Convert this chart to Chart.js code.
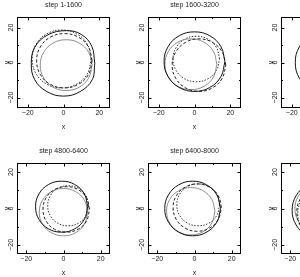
<!DOCTYPE html>
<html>
<head>
<meta charset="utf-8">
<script src="https://cdn.jsdelivr.net/npm/chart.js@4.4.1/dist/chart.umd.min.js"></script>
<style>
  html, body { margin: 0; padding: 0; background: #fff; overflow: hidden; }
  body { width: 300px; height: 277px; position: relative; }
  .panel { position: absolute; width: 131px; height: 146px; }
</style>
</head>
<body>
<div class="panel" style="left:0;top:0"><canvas id="c1" width="131" height="146"></canvas></div>
<div class="panel" style="left:131px;top:0"><canvas id="c2" width="131" height="146"></canvas></div>
<div class="panel" style="left:264px;top:0"><canvas id="c3" width="131" height="146"></canvas></div>
<div class="panel" style="left:0;top:146px"><canvas id="c4" width="131" height="146"></canvas></div>
<div class="panel" style="left:131px;top:146px"><canvas id="c5" width="131" height="146"></canvas></div>
<div class="panel" style="left:264px;top:146px"><canvas id="c6" width="131" height="146"></canvas></div>
<script>
const titles = ["step 1-1600", "step 1600-3200", "step 3200-4800", "step 4800-6400", "step 6400-8000", "step 8000-9600"];
const tickValues = [-20, -10, 0, 10, 20];
const tickLabels = ["\u221220", "", "0", "", "20"];
const rangeTop = [-26, 26];
const rangeBottom = [-25, 25];

// orbit passes, [x, y] points
const step1a = [[17.5,-0.5],[15.8,9.3],[10,16],[1.5,18.2],[-8.8,15.8],[-16,8.8],[-18,-0.5],[-16.1,-9.8],[-9.3,-16.6],[0,-19.2],[9.3,-16.6],[16.1,-9.8]];
const step1b = [[16,1],[14,8.8],[8.3,14.5],[0.5,16.5],[-7.3,14.5],[-13,8.8],[-15,1],[-13,-6.8],[-7.3,-12.5],[0.5,-14.5],[8.3,-12.5],[14,-6.8]];
const step1c = [[16,-1.5],[14.1,5.8],[8.8,11.1],[1.5,13],[-5.8,11.1],[-11.1,5.8],[-13,-1.5],[-11.1,-8.8],[-5.8,-14.1],[1.5,-16],[8.8,-14.1],[14.1,-8.8]];
const step1d = [[15.5,2],[13.4,10.3],[7.3,16.4],[-1,18.5],[-9.3,16.4],[-15.4,10.3],[-17.5,2],[-15.4,-6.3],[-9.3,-12.4],[-1,-14.5],[7.3,-12.4],[13.4,-6.3]];

const step2a = [[17,0.5],[14.8,9],[8.5,15.3],[0,17.5],[-8.5,15.3],[-14.8,9],[-17,0.5],[-14.8,-8],[-8.5,-14.3],[0,-16.5],[8.5,-14.3],[14.8,-8]];
const step2b = [[17.5,-1.5],[15.5,6],[10,11.5],[2.5,13.5],[-5,11.5],[-10.5,6],[-12.5,-1.5],[-10.5,-9],[-5,-14.5],[2.5,-16.5],[10,-14.5],[15.5,-9]];
const step2c = [[12.5,-1],[10.6,6.3],[5.3,11.6],[-2,13.5],[-9.3,11.6],[-14.6,6.3],[-16.5,-1],[-14.6,-8.3],[-9.3,-13.6],[-2,-15.5],[5.3,-13.6],[10.6,-8.3]];
const step2d = [[14,2],[12.3,8.5],[7.5,13.3],[1,15],[-5.5,13.3],[-10.3,8.5],[-12,2],[-10.3,-4.5],[-5.5,-9.3],[1,-11],[7.5,-9.3],[12.3,-4.5]];

const step3a = [[18,0],[15.7,9],[9,15.7],[0,18],[-9,15.7],[-15.7,9],[-18,0],[-15.7,-9],[-9,-15.7],[0,-18],[9,-15.7],[15.7,-9]];
const step3b = [[19,1],[16.8,9.5],[10.5,15.8],[2,18],[-6.5,15.8],[-12.8,9.5],[-15,1],[-12.8,-7.5],[-6.5,-13.8],[2,-16],[10.5,-13.8],[16.8,-7.5]];

const step4a = [[13,1],[11.2,8],[6,13.2],[-1,15],[-8,13.2],[-13.2,8],[-15,1],[-13.2,-6],[-8,-11.2],[-1,-13],[6,-11.2],[11.2,-6]];
const step4b = [[14,-0.5],[12.4,5.8],[7.8,10.4],[1.5,12],[-4.8,10.4],[-9.4,5.8],[-11,-0.5],[-9.4,-6.8],[-4.8,-11.4],[1.5,-13],[7.8,-11.4],[12.4,-6.8]];
const step4c = [[13,-2],[11.3,4.5],[6.5,9.3],[0,11],[-6.5,9.3],[-11.3,4.5],[-13,-2],[-11.3,-8.5],[-6.5,-13.3],[0,-15],[6.5,-13.3],[11.3,-8.5]];
const step4d = [[13.5,1.5],[12.1,7],[8,11.1],[2.5,12.5],[-3,11.1],[-7.1,7],[-8.5,1.5],[-7.1,-4],[-3,-8.1],[2.5,-9.5],[8,-8.1],[12.1,-4]];

const step5a = [[14,0],[12,7.5],[6.5,13],[-1,15],[-8.5,13],[-14,7.5],[-16,0],[-14,-7.5],[-8.5,-13],[-1,-15],[6.5,-13],[12,-7.5]];
const step5b = [[14.5,0.5],[12.8,7],[8,11.8],[1.5,13.5],[-5,11.8],[-9.8,7],[-11.5,0.5],[-9.8,-6],[-5,-10.8],[1.5,-12.5],[8,-10.8],[12.8,-6]];
const step5c = [[11,-1.5],[9.3,5],[4.5,9.8],[-2,11.5],[-8.5,9.8],[-13.3,5],[-15,-1.5],[-13.3,-8],[-8.5,-12.8],[-2,-14.5],[4.5,-12.8],[9.3,-8]];
const step5d = [[13.5,2],[12,7.8],[7.8,12],[2,13.5],[-3.8,12],[-8,7.8],[-9.5,2],[-8,-3.8],[-3.8,-8],[2,-9.5],[7.8,-8],[12,-3.8]];

const step6a = [[13,-1],[10.9,7],[5,12.9],[-3,15],[-11,12.9],[-16.9,7],[-19,-1],[-16.9,-9],[-11,-14.9],[-3,-17],[5,-14.9],[10.9,-9]];
const step6b = [[12.5,-2],[10.6,5.3],[5.3,10.6],[-2,12.5],[-9.3,10.6],[-14.6,5.3],[-16.5,-2],[-14.6,-9.3],[-9.3,-14.6],[-2,-16.5],[5.3,-14.6],[10.6,-9.3]];
const step6c = [[9.5,0],[7.7,6.8],[2.8,11.7],[-4,13.5],[-10.8,11.7],[-15.7,6.8],[-17.5,0],[-15.7,-6.8],[-10.8,-11.7],[-4,-13.5],[2.8,-11.7],[7.7,-6.8]];
const step6d = [[14,-3],[12,4.5],[6.5,10],[-1,12],[-8.5,10],[-14,4.5],[-16,-3],[-14,-10.5],[-8.5,-16],[-1,-18],[6.5,-16],[12,-10.5]];

const lineStyles = [
  { color: "#111", dash: [] },
  { color: "#222", dash: [3, 2] },
  { color: "#8c8c8c", dash: [] },
  { color: "#333", dash: [1.5, 1.5] },
];

Chart.defaults.font.family = "Liberation Sans";
Chart.defaults.font.size = 7;
Chart.defaults.color = "#222";

// frame on all four sides with inward ticks
const frameTicks = {
  id: "frameTicks",
  afterDraw(chart) {
    const { ctx, chartArea: a, scales } = chart;
    ctx.save();
    ctx.strokeStyle = "#000";
    ctx.lineWidth = 1;
    ctx.strokeRect(a.left + 0.5, a.top + 0.5, a.right - a.left - 1, a.bottom - a.top - 1);
    ctx.beginPath();
    tickValues.forEach((v, i) => {
      const len = tickLabels[i] === "" ? 2 : 3.5;
      const px = Math.round(scales.x.getPixelForValue(v)) + 0.5;
      const py = Math.round(scales.y.getPixelForValue(v)) + 0.5;
      ctx.moveTo(px, a.bottom); ctx.lineTo(px, a.bottom - len);
      ctx.moveTo(px, a.top); ctx.lineTo(px, a.top + len);
      ctx.moveTo(a.left, py); ctx.lineTo(a.left + len, py);
      ctx.moveTo(a.right, py); ctx.lineTo(a.right - len, py);
    });
    ctx.stroke();
    ctx.restore();
  },
};

function makePanel(id, title, range, loops) {
  const datasets = loops.map((pts, i) => ({
    data: pts.concat([pts[0]]).map(p => ({ x: p[0], y: p[1] })),
    showLine: true,
    tension: 0.4,
    borderColor: lineStyles[i % lineStyles.length].color,
    borderDash: lineStyles[i % lineStyles.length].dash,
    borderWidth: 1,
    pointRadius: 0,
    fill: false,
  }));
  const tickCallback = v => {
    const i = tickValues.indexOf(v);
    return i < 0 ? "" : tickLabels[i];
  };
  return new Chart(document.getElementById(id), {
    type: "scatter",
    data: { datasets },
    options: {
      responsive: false,
      animation: false,
      devicePixelRatio: 1,
      layout: { padding: { left: 0, right: 21, top: 0, bottom: 0 } },
      scales: {
        x: {
          type: "linear",
          min: range[0],
          max: range[1],
          afterBuildTicks: s => { s.ticks = tickValues.map(v => ({ value: v })); },
          afterFit: s => { s.height = 38; },
          ticks: { autoSkip: false, maxRotation: 0, padding: 1, callback: tickCallback },
          grid: { display: false, drawTicks: false },
          border: { display: false },
          title: { display: true, text: "x", padding: { top: 0, bottom: 15 } },
        },
        y: {
          type: "linear",
          min: range[0],
          max: range[1],
          afterBuildTicks: s => { s.ticks = tickValues.map(v => ({ value: v })); },
          afterFit: s => { s.width = 17; },
          ticks: { autoSkip: false, minRotation: 90, maxRotation: 90, crossAlign: "center", padding: 0, callback: tickCallback },
          grid: { display: false, drawTicks: false },
          border: { display: false },
          title: { display: true, text: "y", padding: { top: 2.8, bottom: 0 } },
        },
      },
      plugins: {
        legend: { display: false },
        tooltip: { enabled: false },
        title: {
          display: true,
          text: title,
          fullSize: false,
          font: { size: 7, weight: "normal" },
          padding: { top: 1, bottom: 7.6 },
        },
      },
    },
    plugins: [frameTicks],
  });
}

makePanel("c1", titles[0], rangeTop, [step1a, step1b, step1c, step1d]);
makePanel("c2", titles[1], rangeTop, [step2a, step2b, step2c, step2d]);
makePanel("c3", titles[2], rangeTop, [step3a, step3b]);
makePanel("c4", titles[3], rangeBottom, [step4a, step4b, step4c, step4d]);
makePanel("c5", titles[4], rangeBottom, [step5a, step5b, step5c, step5d]);
makePanel("c6", titles[5], rangeBottom, [step6a, step6b, step6c, step6d]);
</script>
</body>
</html>
